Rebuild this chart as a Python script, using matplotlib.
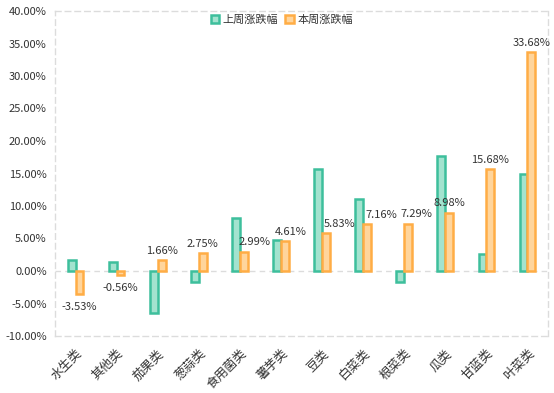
import matplotlib
matplotlib.use("Agg")
import matplotlib.pyplot as plt
import numpy as np
from matplotlib.ticker import FuncFormatter

plt.rcParams['font.family'] = ['Noto Sans CJK SC', 'DejaVu Sans']

categories = ['水生类', '其他类', '茄果类', '葱蒜类', '食用菌类', '薯芋类', '豆类', '白菜类', '根菜类', '瓜类', '甘蓝类', '叶菜类']
last_week = [1.7, 1.4, -6.5, -1.7, 8.1, 4.8, 15.7, 11.1, -1.7, 17.7, 2.6, 14.9]
this_week = [-3.53, -0.56, 1.66, 2.75, 2.99, 4.61, 5.83, 7.16, 7.29, 8.98, 15.68, 33.68]
series_names = ['上周涨跌幅', '本周涨跌幅']

fig = plt.figure(figsize=(5.54, 3.93), dpi=100)
ax = fig.add_axes([55/554, 57/393, 493/554, 325/393])

x = np.arange(len(categories))
w = 0.19
g_face, g_edge = '#a3e3cf', '#3dbf9c'
o_face, o_edge = '#ffd59c', '#ffad45'
ax.bar(x - w/2, last_week, w, color=g_face, edgecolor=g_edge, linewidth=1.8, label=series_names[0], zorder=3)
ax.bar(x + w/2, this_week, w, color=o_face, edgecolor=o_edge, linewidth=1.8, label=series_names[1], zorder=3)

# small horizontal nudges (in points) where labels would collide with neighbouring bars
nudge = {4: 8, 5: 4, 6: 10, 7: 10, 8: 6}
for i, (xi, v) in enumerate(zip(x, this_week)):
    dx = nudge.get(i, 0)
    if v >= 0:
        ax.annotate(f'{v:.2f}%', (xi + w/2, v), xytext=(dx, 3), textcoords='offset points',
                    ha='center', va='bottom', fontsize=8, color='#333333')
    else:
        ax.annotate(f'{v:.2f}%', (xi + w/2, v), xytext=(dx, -6), textcoords='offset points',
                    ha='center', va='top', fontsize=8, color='#333333')

ax.set_xlim(-0.5, len(categories) - 0.5)
ax.set_ylim(-10, 40)
ax.set_yticks(np.arange(-10, 41, 5))
ax.yaxis.set_major_formatter(FuncFormatter(lambda v, p: f'{v:.2f}%'))
ax.set_xticks(x)
ax.set_xticklabels(categories, rotation=45, ha='right', rotation_mode='anchor')
ax.tick_params(axis='both', length=0, colors='#333333')
ax.tick_params(axis='x', pad=8, labelsize=9)
ax.tick_params(axis='y', pad=6, labelsize=8)

for s in ax.spines.values():
    s.set_color('#dcdcdc')
    s.set_linestyle((0, (4, 3)))
    s.set_linewidth(1)
ax.axhline(0, color='#dcdcdc', linestyle=(0, (4, 3)), linewidth=1, zorder=1)

leg = ax.legend(loc='upper center', bbox_to_anchor=(0.46, 1.01), ncol=2, frameon=False,
                fontsize=8, handlelength=0.8, handleheight=0.8, columnspacing=0.6, handletextpad=0.3,
                borderaxespad=0.2)
for t in leg.get_texts():
    t.set_color('#333333')

fig.savefig('out.png', dpi=100)
